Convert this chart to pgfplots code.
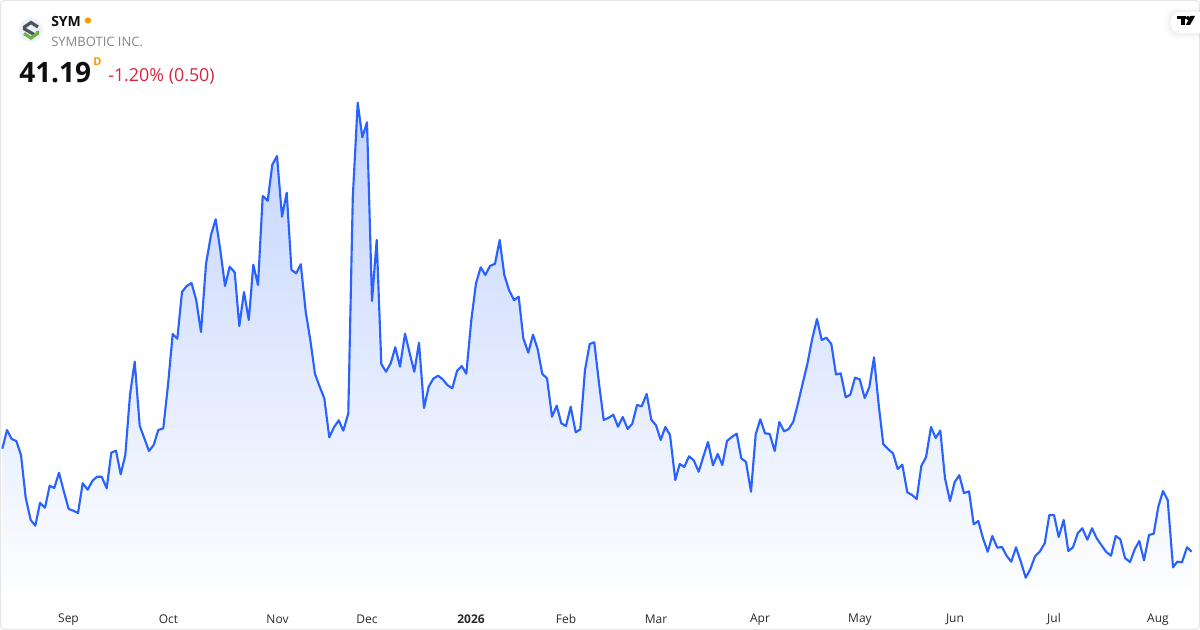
\documentclass[border=0pt]{standalone}
\usepackage{fontspec}
\setmainfont{Open Sans}
\usepackage{pgfplots}
\usepackage{pgfplotstable}
\pgfplotsset{compat=1.18}
\definecolor{tvline}{HTML}{2962FF}
\definecolor{tvtop}{HTML}{C3D3FF}
\definecolor{tvred}{HTML}{D7263D}
\definecolor{tvorange}{HTML}{FF9800}
\definecolor{tvtext}{HTML}{0F0F0F}
\definecolor{tvtick}{HTML}{2A2A2A}
\definecolor{tvgray}{HTML}{868686}
\definecolor{tvborder}{HTML}{E6E6E6}
\definecolor{logobg}{HTML}{EEF1F8}
\definecolor{logodark}{HTML}{50535E}
\definecolor{logogreen}{HTML}{6CB33F}
\pgfplotstableread{
x y
2.3 448.7
7 430
11.7 439
16.3 441
21 455
25.7 497.7
30.7 520
35.3 525.7
40 503
45 507.7
49.7 485.7
54.3 488
59 472.7
63.7 491
68.7 509
73.3 510.7
78 513
82.7 483.3
87.7 489.7
92.3 481
97 476.7
101.7 476.7
106.7 488.3
111.3 452.7
116 450.7
120.7 474.3
125.3 455
130 395
134.7 361.7
139.7 425.7
144.3 438.3
149 451
153.7 445
158.3 430
163.3 428.3
168 385
172.7 334
177.3 338.7
182 292
186.7 286
191.5 283
196.2 300
201 332
206 264
211 235
215.7 219.3
220.3 250
225 286
229.7 266.7
234.7 272.3
239.3 326
244 292
248.8 320
253.3 264.7
258 285
262.7 196
267.7 200.7
272.3 164.7
277 156
282 216.7
286.7 192.7
291.5 270
296.2 273.3
300.8 264.2
305.7 311.7
310.3 340
315 374
319.7 386.7
324.3 398.3
329.3 437.3
334 427.3
338.7 420.3
343.3 430.7
348.3 413.3
352.8 197
357.7 102.7
362.3 137.3
367 122.3
372 301
376.7 240
381.3 364
386 371.7
390.7 363.3
395.3 347.3
400 366.7
405 333.7
409.7 353.3
414.3 371.7
419 342.7
424 408
428.7 386.7
433.3 378.7
438 375.7
442.7 379.3
447.3 385
452.3 388.3
457 371
461.7 366
466.3 373.7
471.3 320
476 283.3
480.7 267.3
485.3 275
490 266
495 263.7
499.7 240
504.3 275
509 290
514 300
518.7 296.7
523.3 338.3
528.3 352.7
533 334.7
537.7 349.3
542.3 374
547 378.3
552 416.7
556.7 405.7
561.3 423.3
566 426
570.7 406.7
575.7 432.3
580.3 429.3
585 370
589.7 344
594.3 342.3
599 383.3
603.7 420
608.7 417.7
613.3 414.7
618 426.7
622.7 417
627.7 429
632.3 423.7
637 405
641.7 406.3
646.7 394
651.3 419.7
656 425.3
660.7 440
665.3 427
670 435
675.3 480
679.7 464
684.3 467
689 456.3
693.7 460.3
698.7 471.7
703.3 456.7
708 442
713 465.3
717.7 454
722.3 465
727 441
731.7 437
736.7 433.7
741.3 458.3
746 462
751 491.7
755.7 434.3
760.3 419.3
765 433.3
769.7 434
774.7 451
779.3 422
784 431.3
788.7 429
793.3 421.7
798 403.3
802.7 383.3
807.3 364.3
812.3 338.3
817 319
821.7 340
826.3 337.7
831.3 344
836 374.5
840.7 373.3
845.7 397.3
850.3 394.7
855 377.7
859.7 379.3
864.7 398
869.3 387.3
874 357.3
878.7 405
883.3 444.3
888.3 449.3
893 453.3
897.7 469
902.3 464.7
907.3 492.3
912 495
916.7 499
921.3 466
926 457.3
931 427
935.7 438
940.3 430.7
945 478.3
950 501
954.7 482
959.3 475.2
964 493.2
969 491.3
973.7 524.3
978.3 521
983 538.3
987.7 551.7
992.3 536
997.3 547.7
1002 547
1006.7 556
1011.3 561.7
1016 547.3
1021 562.3
1025.7 577.7
1030.3 569.3
1035 556.3
1039.7 551.7
1044.7 543.3
1049.3 515
1054 515
1058.7 537
1063.7 520
1068.3 551
1073 547.3
1077.7 533.3
1082.3 528.3
1087.3 539.7
1092 528.3
1096.7 538.3
1101.3 545
1106 551.7
1111 555.7
1115.7 536
1120.3 539.3
1125 558
1130 562
1134.7 549.3
1139.3 541
1144 560.3
1149 535
1153.7 533.7
1158.3 506.7
1163 491
1167.7 500
1173 567.3
1177.3 561.7
1182 562.3
1187 547.3
1191.7 551.7
}\pricedata
\begin{document}
\begin{tikzpicture}
\begin{axis}[
  scale only axis, width=900pt, height=472.5pt,
  xmin=0, xmax=1200, ymin=0, ymax=630, y dir=reverse,
  axis line style={draw=none}, tick style={draw=none},
  ytick=\empty,
  xtick={68.5,168.5,277.5,367,471,566,656,760,860,955,1054,1158},
  xticklabels={Sep,Oct,Nov,Dec,\textbf{2026},Feb,Mar,Apr,May,Jun,Jul,Aug},
  xticklabel pos=lower,
  xticklabel style={anchor=center, yshift=8pt, font=\fontsize{9}{9}\selectfont, text=tvtick},
  axis background/.style={fill=white},
]
\addplot[draw=none, top color=tvtop, bottom color=white] table[x=x,y=y]{\pricedata} -- (axis cs:1191.7,605) -- (axis cs:2.3,605) -- cycle;
\addplot[color=tvline, line width=1.6pt, line join=round, no marks] table[x=x,y=y]{\pricedata};
% frame
\draw[tvborder, line width=0.75pt, rounded corners=3pt] (axis cs:0.5,0.5) rectangle (axis cs:1199.5,629.5);
% header
\fill[logobg] (axis cs:31,30) circle[radius=9pt];
\draw[logodark, line width=2.4pt] (axis cs:38,27) -- (axis cs:31,22.5) -- (axis cs:24.5,27) -- (axis cs:24.5,29) -- (axis cs:35,35);
\draw[logogreen, line width=2.4pt] (axis cs:24,33.5) -- (axis cs:31,38) -- (axis cs:37.5,33.5) -- (axis cs:37.5,31);
\node[anchor=west, inner sep=0, font=\fontsize{10.5}{10.5}\selectfont\bfseries, text=tvtext] at (axis cs:51,22) {SYM};
\fill[tvorange] (axis cs:88,20.5) circle[radius=2.4pt];
\node[anchor=west, inner sep=0, font=\fontsize{9.75}{9.75}\selectfont, text=tvgray] at (axis cs:51,41.5) {SYMBOTIC INC.};
\node[anchor=west, inner sep=0, font=\fontsize{21}{21}\selectfont\bfseries, text=tvtext] at (axis cs:19,73) {41.19};
\node[anchor=west, inner sep=0, font=\fontsize{8.25}{8.25}\selectfont\bfseries, text=tvorange] at (axis cs:93,62) {D};
\node[anchor=west, inner sep=0, font=\fontsize{13.4}{13.4}\selectfont, text=tvred] at (axis cs:108,76) {-1.20\% (0.50)};
% TradingView badge
\fill[black, opacity=0.02, rounded corners=9pt] (axis cs:1165,8) rectangle (axis cs:1215,39);
\fill[black, opacity=0.03, rounded corners=8pt] (axis cs:1168,10) rectangle (axis cs:1215,36);
\fill[white, rounded corners=7pt] (axis cs:1171,12) rectangle (axis cs:1215,33);
\fill[black] (axis cs:1177,16) rectangle (axis cs:1186,19.5);
\fill[black] (axis cs:1181,19.5) rectangle (axis cs:1185,25);
\fill[black] (axis cs:1188,18) circle[radius=1.5pt];
\fill[black] (axis cs:1190.5,16) -- (axis cs:1195,16) -- (axis cs:1190,25) -- (axis cs:1185.8,25) -- cycle;
\end{axis}
\end{tikzpicture}
\end{document}
